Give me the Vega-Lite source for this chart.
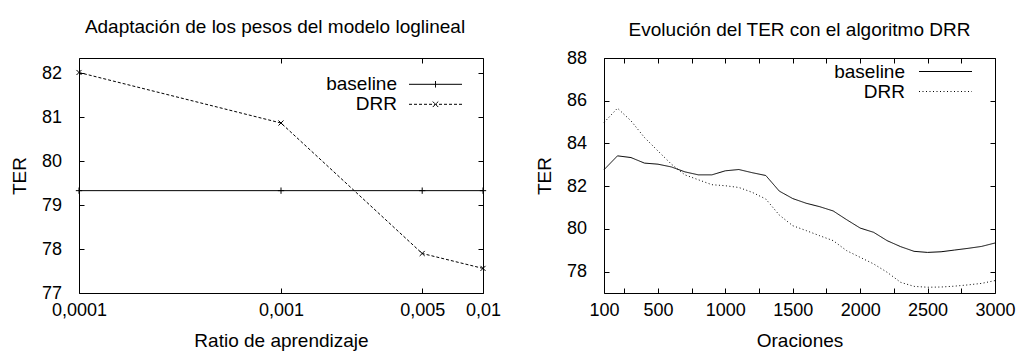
{
  "$schema": "https://vega.github.io/schema/vega-lite/v6.json",
  "padding": {"left": 10, "top": 17, "right": 0, "bottom": 0},
  "datasets": {
    "pesos": [
      {"ratio": 0.0001, "serie": "baseline", "ter": 79.33},
      {"ratio": 0.001, "serie": "baseline", "ter": 79.33},
      {"ratio": 0.005, "serie": "baseline", "ter": 79.33},
      {"ratio": 0.01, "serie": "baseline", "ter": 79.33},
      {"ratio": 0.0001, "serie": "DRR", "ter": 82.02},
      {"ratio": 0.001, "serie": "DRR", "ter": 80.87},
      {"ratio": 0.005, "serie": "DRR", "ter": 77.9},
      {"ratio": 0.01, "serie": "DRR", "ter": 77.56}
    ],
    "oraciones": [
      {"n": 100, "serie": "baseline", "ter": 82.77},
      {"n": 200, "serie": "baseline", "ter": 83.42},
      {"n": 300, "serie": "baseline", "ter": 83.34},
      {"n": 400, "serie": "baseline", "ter": 83.08},
      {"n": 500, "serie": "baseline", "ter": 83.03},
      {"n": 600, "serie": "baseline", "ter": 82.9},
      {"n": 700, "serie": "baseline", "ter": 82.67},
      {"n": 800, "serie": "baseline", "ter": 82.53},
      {"n": 900, "serie": "baseline", "ter": 82.53},
      {"n": 1000, "serie": "baseline", "ter": 82.72},
      {"n": 1100, "serie": "baseline", "ter": 82.78},
      {"n": 1200, "serie": "baseline", "ter": 82.63},
      {"n": 1300, "serie": "baseline", "ter": 82.5},
      {"n": 1400, "serie": "baseline", "ter": 81.77},
      {"n": 1500, "serie": "baseline", "ter": 81.42},
      {"n": 1600, "serie": "baseline", "ter": 81.2},
      {"n": 1700, "serie": "baseline", "ter": 81.04},
      {"n": 1800, "serie": "baseline", "ter": 80.84},
      {"n": 1900, "serie": "baseline", "ter": 80.43},
      {"n": 2000, "serie": "baseline", "ter": 80.04},
      {"n": 2100, "serie": "baseline", "ter": 79.84},
      {"n": 2200, "serie": "baseline", "ter": 79.45},
      {"n": 2300, "serie": "baseline", "ter": 79.17},
      {"n": 2400, "serie": "baseline", "ter": 78.95},
      {"n": 2500, "serie": "baseline", "ter": 78.9},
      {"n": 2600, "serie": "baseline", "ter": 78.93},
      {"n": 2700, "serie": "baseline", "ter": 79.01},
      {"n": 2800, "serie": "baseline", "ter": 79.09},
      {"n": 2900, "serie": "baseline", "ter": 79.18},
      {"n": 3000, "serie": "baseline", "ter": 79.34},
      {"n": 100, "serie": "DRR", "ter": 84.98},
      {"n": 200, "serie": "DRR", "ter": 85.65},
      {"n": 300, "serie": "DRR", "ter": 85.06},
      {"n": 400, "serie": "DRR", "ter": 84.28},
      {"n": 500, "serie": "DRR", "ter": 83.65},
      {"n": 600, "serie": "DRR", "ter": 83.03},
      {"n": 700, "serie": "DRR", "ter": 82.53},
      {"n": 800, "serie": "DRR", "ter": 82.3},
      {"n": 900, "serie": "DRR", "ter": 82.07},
      {"n": 1000, "serie": "DRR", "ter": 82.02},
      {"n": 1100, "serie": "DRR", "ter": 81.94},
      {"n": 1200, "serie": "DRR", "ter": 81.71},
      {"n": 1300, "serie": "DRR", "ter": 81.4},
      {"n": 1400, "serie": "DRR", "ter": 80.65},
      {"n": 1500, "serie": "DRR", "ter": 80.15},
      {"n": 1600, "serie": "DRR", "ter": 79.92},
      {"n": 1700, "serie": "DRR", "ter": 79.68},
      {"n": 1800, "serie": "DRR", "ter": 79.45},
      {"n": 1900, "serie": "DRR", "ter": 78.98},
      {"n": 2000, "serie": "DRR", "ter": 78.67},
      {"n": 2100, "serie": "DRR", "ter": 78.36},
      {"n": 2200, "serie": "DRR", "ter": 77.97},
      {"n": 2300, "serie": "DRR", "ter": 77.5},
      {"n": 2400, "serie": "DRR", "ter": 77.31},
      {"n": 2500, "serie": "DRR", "ter": 77.27},
      {"n": 2600, "serie": "DRR", "ter": 77.28},
      {"n": 2700, "serie": "DRR", "ter": 77.32},
      {"n": 2800, "serie": "DRR", "ter": 77.38},
      {"n": 2900, "serie": "DRR", "ter": 77.45},
      {"n": 3000, "serie": "DRR", "ter": 77.58}
    ]
  },
  "spacing": 33,
  "resolve": {
    "scale": {"color": "independent", "strokeDash": "independent", "x": "independent", "y": "independent"},
    "legend": {"color": "independent", "strokeDash": "independent"}
  },
  "hconcat": [
    {
      "width": 404,
      "height": 235,
      "title": {"text": "Adaptación de los pesos del modelo loglineal", "dx": -6, "offset": 21},
      "data": {"name": "pesos"},
      "layer": [
        {
          "mark": {"type": "line", "strokeWidth": 1, "color": "black"},
          "encoding": {
            "x": {"field": "ratio", "type": "quantitative",
              "scale": {"type": "log", "domain": [0.0001, 0.01], "nice": false},
              "axis": {"values": [0.0001, 0.001, 0.005, 0.01], "labelExpr": "replace(format(datum.value, '~r'), '.', ',')", "title": "Ratio de aprendizaje", "labelFlush": false, "labelOverlap": false}},
            "y": {"field": "ter", "type": "quantitative",
              "scale": {"domain": [77, 82.35], "nice": false, "zero": false},
              "axis": {"values": [77, 78, 79, 80, 81, 82], "title": "TER", "labelOverlap": false}},
            "color": {"field": "serie", "type": "nominal",
              "scale": {"domain": ["baseline", "DRR"], "range": ["black", "black"]},
              "legend": {"orient": "none", "legendX": 347, "legendY": 16.8, "labelOffset": -48, "rowPadding": 0,
                "encode": {"symbols": {"update": {
                  "shape": {"signal": "datum.value == 'DRR' ? 'M-5.3,0H5.3M-0.55,-0.55L0.55,0.55M-0.55,0.55L0.55,-0.55' : 'M-5.3,0H5.3M0,-0.65V0.65'"},
                  "size": {"value": 100},
                  "stroke": {"value": "black"},
                  "fill": {"value": "transparent"},
                  "strokeWidth": {"value": 1},
                  "strokeDash": {"signal": "datum.value == 'DRR' ? [3, 2] : [1, 0]"},
                  "opacity": {"value": 1}
                }}}}},
            "strokeDash": {"field": "serie", "type": "nominal",
              "scale": {"domain": ["baseline", "DRR"], "range": [[1, 0], [3, 2]]}, "legend": null}
          }
        },
        {
          "transform": [{"filter": "datum.serie == 'baseline'"}],
          "mark": {"type": "point", "filled": false, "strokeWidth": 1, "color": "black", "opacity": 1, "size": 40, "shape": "M-1,0H1M0,-1V1"},
          "encoding": {
            "x": {"field": "ratio", "type": "quantitative",
              "scale": {"type": "log", "domain": [0.0001, 0.01], "nice": false},
              "axis": {"orient": "top", "values": [0.0001, 0.001, 0.005, 0.01], "labels": false, "title": null}},
            "y": {"field": "ter", "type": "quantitative",
              "scale": {"domain": [77, 82.35], "nice": false, "zero": false},
              "axis": {"orient": "right", "values": [77, 78, 79, 80, 81, 82], "labels": false, "title": null}}
          }
        },
        {
          "transform": [{"filter": "datum.serie == 'DRR'"}],
          "mark": {"type": "point", "filled": false, "strokeWidth": 1, "color": "black", "opacity": 1, "size": 40, "shape": "M-0.8,-0.8L0.8,0.8M-0.8,0.8L0.8,-0.8"},
          "encoding": {
            "x": {"field": "ratio", "type": "quantitative", "axis": null},
            "y": {"field": "ter", "type": "quantitative", "axis": null}
          }
        }
      ],
      "resolve": {"axis": {"x": "independent", "y": "independent"}}
    },
    {
      "width": 391,
      "height": 235,
      "title": {"text": "Evolución del TER con el algoritmo DRR", "offset": 9},
      "data": {"name": "oraciones"},
      "layer": [
        {
          "mark": {"type": "line", "strokeWidth": 1, "color": "black"},
          "encoding": {
            "x": {"field": "n", "type": "quantitative",
              "scale": {"domain": [100, 3000], "nice": false, "zero": false},
              "axis": {"values": [100, 250, 500, 750, 1000, 1250, 1500, 1750, 2000, 2250, 2500, 2750, 3000], "labelExpr": "indexof([100, 500, 1000, 1500, 2000, 2500, 3000], datum.value) >= 0 ? datum.label : ''", "format": "d", "title": "Oraciones", "labelFlush": false, "labelOverlap": false}},
            "y": {"field": "ter", "type": "quantitative",
              "scale": {"domain": [77, 88], "nice": false, "zero": false},
              "axis": {"values": [78, 80, 82, 84, 86, 88], "title": "TER", "labelOverlap": false}},
            "color": {"field": "serie", "type": "nominal",
              "scale": {"domain": ["baseline", "DRR"], "range": ["black", "black"]},
              "legend": {"orient": "none", "legendX": 332, "legendY": 4, "labelOffset": -50, "rowPadding": 0,
                "encode": {"symbols": {"update": {
                  "shape": {"value": "M-5.3,0H5.3"},
                  "size": {"value": 100},
                  "stroke": {"value": "black"},
                  "fill": {"value": "transparent"},
                  "strokeWidth": {"value": 1},
                  "strokeDash": {"signal": "datum.value == 'DRR' ? [1, 2.5] : [1, 0]"},
                  "opacity": {"value": 1}
                }}}}},
            "strokeDash": {"field": "serie", "type": "nominal",
              "scale": {"domain": ["baseline", "DRR"], "range": [[1, 0], [1, 2.5]]}, "legend": null}
          }
        },
        {
          "mark": {"type": "point", "opacity": 0},
          "encoding": {
            "x": {"field": "n", "type": "quantitative",
              "scale": {"domain": [100, 3000], "nice": false, "zero": false},
              "axis": {"orient": "top", "values": [100, 250, 500, 750, 1000, 1250, 1500, 1750, 2000, 2250, 2500, 2750, 3000], "labels": false, "title": null}},
            "y": {"field": "ter", "type": "quantitative",
              "scale": {"domain": [77, 88], "nice": false, "zero": false},
              "axis": {"orient": "right", "values": [78, 80, 82, 84, 86, 88], "labels": false, "title": null}}
          }
        }
      ],
      "resolve": {"axis": {"x": "independent", "y": "independent"}}
    }
  ],
  "config": {
    "font": "Liberation Sans",
    "view": {"stroke": "black", "strokeWidth": 1},
    "title": {"font": "Liberation Sans", "fontSize": 19, "fontWeight": "normal", "color": "black"},
    "axis": {"domain": false, "grid": false, "tickColor": "black", "tickSize": -5, "tickWidth": 1,
      "labelFont": "Liberation Sans", "labelFontSize": 18, "labelColor": "black",
      "titleFont": "Liberation Sans", "titleFontSize": 19, "titleFontWeight": "normal", "titleColor": "black"},
    "axisX": {"labelPadding": 13, "titlePadding": 12},
    "axisY": {"labelPadding": 22.4, "titlePadding": 11.8},
    "legend": {"title": null, "labelFont": "Liberation Sans", "labelFontSize": 19, "labelColor": "black",
      "labelAlign": "right", "padding": 0, "symbolSize": 100}
  }
}
